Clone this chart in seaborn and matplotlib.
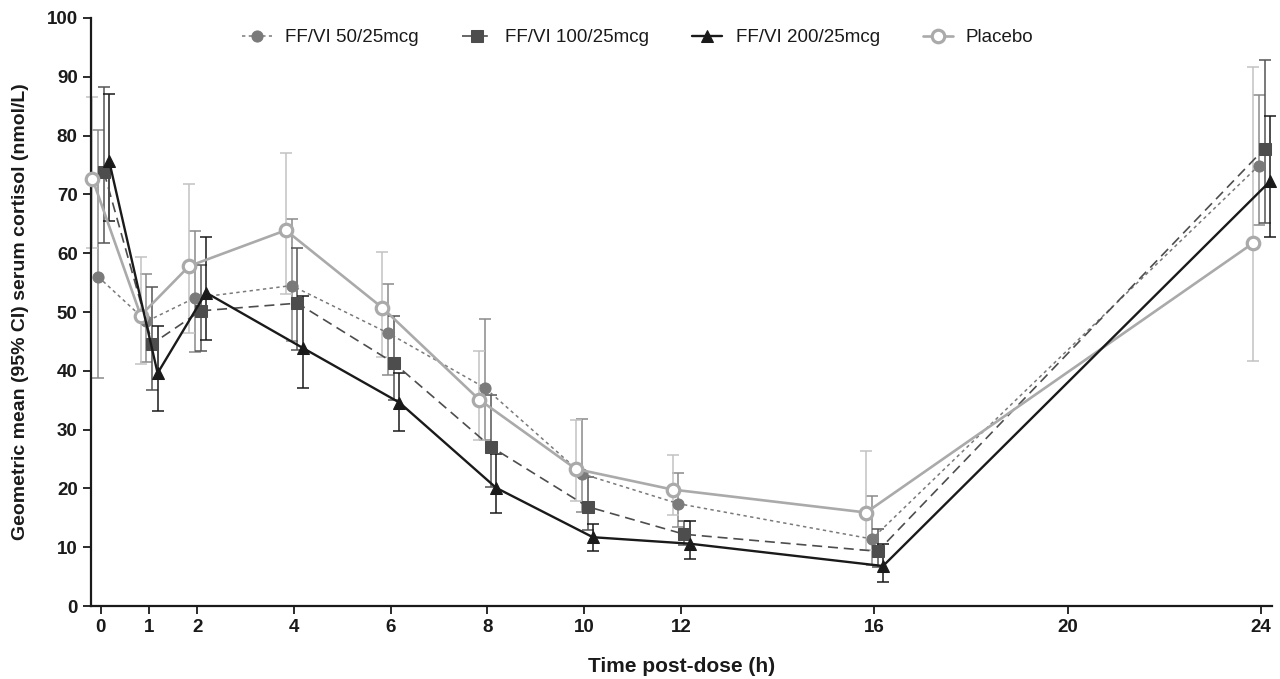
import matplotlib
matplotlib.use('Agg')
import matplotlib.pyplot as plt
import pandas as pd
import numpy as np
import seaborn as sns

# Ajat (h) ja geometriset keskiarvot + 95% CI
times = [0, 1, 2, 4, 6, 8, 10, 12, 16, 24]
xticks = [0, 1, 2, 4, 6, 8, 10, 12, 16, 20, 24]

ff50 = [56.0, 48.4, 52.4, 54.5, 46.4, 37.1, 22.5, 17.4, 11.4, 74.9]
ff50_lo = [38.8, 41.5, 43.2, 45.0, 39.3, 28.2, 16.0, 13.4, 6.9, 64.8]
ff50_hi = [81.0, 56.4, 63.8, 65.8, 54.7, 48.8, 31.8, 22.6, 18.7, 86.9]

ff100 = [73.8, 44.6, 50.2, 51.5, 41.3, 27.1, 16.9, 12.2, 9.3, 77.8]
ff100_lo = [61.8, 36.8, 43.3, 43.5, 35.0, 20.2, 13.0, 10.3, 6.6, 65.1]
ff100_hi = [88.2, 54.3, 58.0, 60.8, 49.4, 35.9, 22.0, 14.4, 13.1, 92.9]

ff200 = [75.6, 39.6, 53.3, 43.9, 34.6, 20.1, 11.7, 10.6, 6.8, 72.2]
ff200_lo = [65.5, 33.2, 45.2, 37.0, 29.8, 15.9, 9.3, 8.0, 4.1, 62.7]
ff200_hi = [87.1, 47.7, 62.7, 52.8, 39.6, 25.8, 14.0, 14.4, 10.6, 83.3]

placebo = [72.7, 49.4, 57.8, 63.9, 50.7, 35.1, 23.3, 19.8, 15.9, 61.7]
placebo_lo = [60.9, 41.1, 46.5, 53.1, 42.4, 28.3, 17.8, 15.4, 9.6, 41.6]
placebo_hi = [86.6, 59.3, 71.8, 77.0, 60.2, 43.3, 31.6, 25.6, 26.3, 91.7]

sns.set_style('ticks')
plt.rcParams['font.family'] = ['Liberation Sans', 'DejaVu Sans']

fig = plt.figure(figsize=(12.8, 6.79), dpi=100)
ax = fig.add_axes([0.071, 0.1075, 0.923, 0.866])

# sarjat: (nimi, arvot, ala, ylä, siirto, väri, virhepalkin väri, viiva, merkki, paksuus)
sarjat = [
    ('FF/VI 50/25mcg', ff50, ff50_lo, ff50_hi, -0.05, '#7a7a7a', '#8a8a8a', (0, (2.2, 2.2)), 'o', 1.1),
    ('FF/VI 100/25mcg', ff100, ff100_lo, ff100_hi, 0.07, '#4d4d4d', '#555555', (0, (6, 3.5)), 's', 1.2),
    ('Placebo', placebo, placebo_lo, placebo_hi, -0.17, '#aaaaaa', '#c2c2c2', '-', 'o', 1.9),
    ('FF/VI 200/25mcg', ff200, ff200_lo, ff200_hi, 0.18, '#1a1a1a', '#1a1a1a', '-', '^', 1.7),
]

handles = {}
for nimi, y, lo, hi, siirto, vari, evari, ls, mk, lw in sarjat:
    x = np.array(times) + siirto
    y = np.array(y)
    eb = ax.errorbar(x, y, yerr=[y - np.array(lo), np.array(hi) - y], fmt='none',
                     ecolor=evari, elinewidth=1.1, capsize=4.5, capthick=1.1, zorder=2)
    for art in eb.get_children():
        art.set_clip_on(False)
    if nimi == 'Placebo':
        mkw = dict(markerfacecolor='white', markeredgecolor=vari, markeredgewidth=2.3, markersize=9)
    elif mk == 's':
        mkw = dict(markerfacecolor=vari, markeredgecolor=vari, markersize=8.5)
    elif mk == '^':
        mkw = dict(markerfacecolor=vari, markeredgecolor=vari, markersize=9)
    else:
        mkw = dict(markerfacecolor=vari, markeredgecolor=vari, markersize=8)
    sns.lineplot(x=x, y=y, ax=ax, color=vari, linestyle=ls, linewidth=lw,
                 marker=mk, errorbar=None, zorder=3, clip_on=False, **mkw)
    handles[nimi] = ax.lines[-1]

ax.set_xlim(-0.2, 24.23)
ax.set_ylim(0, 100)
ax.set_xticks(xticks)
ax.set_yticks(range(0, 101, 10))
for s in ['top', 'right']:
    ax.spines[s].set_visible(False)
for s in ['left', 'bottom']:
    ax.spines[s].set_linewidth(1.6)
    ax.spines[s].set_color('#1a1a1a')
ax.tick_params(axis='both', width=1.3, length=6, color='#1a1a1a')
for lab in ax.get_xticklabels() + ax.get_yticklabels():
    lab.set_fontweight('bold')
    lab.set_color('#1a1a1a')
    lab.set_fontsize(13.5)

ax.set_xlabel('Time post-dose (h)', fontsize=15, fontweight='bold', labelpad=15, color='#1a1a1a')
ax.set_ylabel('Geometric mean (95% CI) serum cortisol (nmol/L)', fontsize=14,
              fontweight='bold', labelpad=13, color='#1a1a1a')

jarj = ['FF/VI 50/25mcg', 'FF/VI 100/25mcg', 'FF/VI 200/25mcg', 'Placebo']
ax.legend([handles[k] for k in jarj], jarj, loc='upper center', bbox_to_anchor=(0.463, 1.01),
          ncol=4, frameon=False, fontsize=13.5, handlelength=1.6, columnspacing=2.3,
          handletextpad=0.7, numpoints=1, labelcolor='#1a1a1a')

fig.savefig('out.png', dpi=100)
